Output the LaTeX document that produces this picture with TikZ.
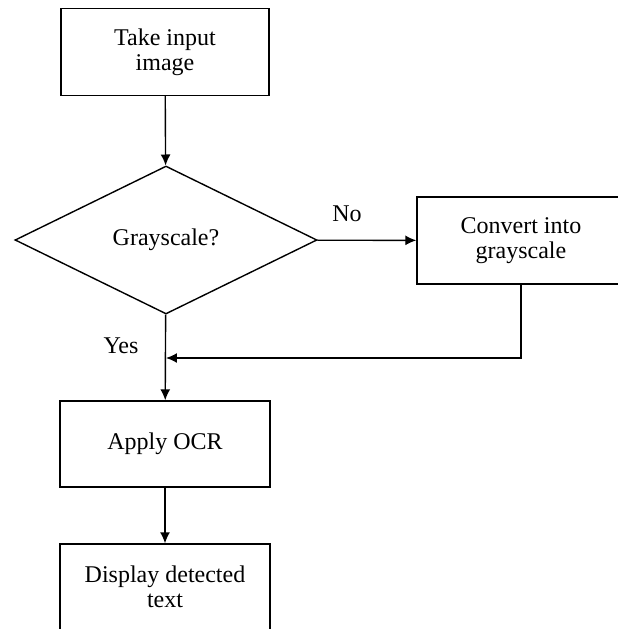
\documentclass[tikz,border=0pt]{standalone}
\usepackage{fontspec}
\setmainfont{Liberation Serif}
\usetikzlibrary{shapes.geometric,arrows.meta}

\tikzset{
  stepbox/.style={shape=rectangle,draw=black,line width=0.7pt,minimum width=104pt,minimum height=43.5pt,align=center,inner sep=2pt},
  decide/.style={shape=diamond,draw=black,line width=0.7pt,minimum width=151pt,minimum height=74pt,inner sep=0pt},
  flow/.style={line width=0.7pt,-{Latex[length=5.5pt,width=5pt]}}
}

\begin{document}
\begin{tikzpicture}[x=0.5pt,y=-0.5pt,font=\fontsize{12}{12.5}\selectfont]
        \clip (0,0) rectangle (618,629);

        \node[stepbox] (take) at (165,52) {Take input\\image};
        \node[decide] (gray) at (166,240) {Grayscale?};
        \node[stepbox] (conv) at (521,240.5) {Convert into\\grayscale};
        \node[stepbox,minimum width=105pt,minimum height=43pt] (ocr) at (165,444) {Apply OCR};
        \node[stepbox,minimum width=105pt,minimum height=43pt] (show) at (165,587) {Display detected\\text};

        \coordinate (join) at (166,358);

        \node (no) at (347,214) {No};
        \node (yes) at (121,346) {Yes};

        \path [flow] (take) edge node {} (gray);
        \path [flow] (gray) edge node {} (conv);
        \path [flow] (gray) edge node {} (ocr);
        \path [flow] (ocr) edge node {} (show);

        \draw [flow] (conv.south) |- (join);
    \end{tikzpicture}
\end{document}
